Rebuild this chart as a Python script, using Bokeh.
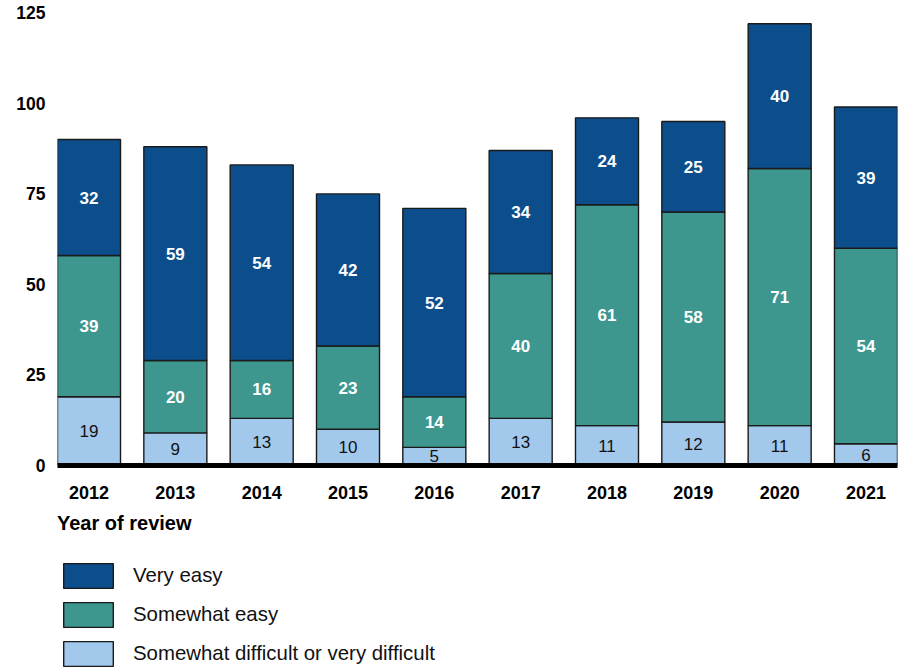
from bokeh.plotting import figure
from bokeh.layouts import column
from bokeh.models import ColumnDataSource, Range1d, FixedTicker, Legend, LegendItem
from bokeh.core.properties import value
from bokeh.embed import file_html
from bokeh.resources import INLINE

# ---- data ----
years = [2012, 2013, 2014, 2015, 2016, 2017, 2018, 2019, 2020, 2021]
difficult = [19, 9, 13, 10, 5, 13, 11, 12, 11, 6]
somewhat_easy = [39, 20, 16, 23, 14, 40, 61, 58, 71, 54]
very_easy = [32, 59, 54, 42, 52, 34, 24, 25, 40, 39]
series_keys = ["difficult", "somewhat_easy", "very_easy"]
series_names = ["Somewhat difficult or very difficult", "Somewhat easy", "Very easy"]
colors = ["#A2C8EC", "#3E978F", "#0C4E8C"]
y_ticks = [0, 25, 50, 75, 100, 125]
x_axis_title = "Year of review"

FONT = "Liberation Sans"
BAR_W = 0.73
OUTLINE = "#1a1a1a"
Y_MAX = 128.4

source = ColumnDataSource(dict(year=years, difficult=difficult,
                               somewhat_easy=somewhat_easy, very_easy=very_easy))

p = figure(width=902, height=510,
           x_range=Range1d(years[0] - BAR_W / 2, years[-1] + BAR_W / 2),
           y_range=Range1d(0, Y_MAX),
           output_backend="svg", toolbar_location=None,
           min_border_left=55, min_border_right=5, min_border_top=0, min_border_bottom=45)

renderers = p.vbar_stack(series_keys, x="year", width=BAR_W, source=source,
                         fill_color=colors, line_color=OUTLINE, line_width=1.4)

# segment labels
series_vals = [difficult, somewhat_easy, very_easy]
bottoms = [0] * len(years)
for i, vals in enumerate(series_vals):
    mids = [b + v / 2 for b, v in zip(bottoms, vals)]
    lab_src = ColumnDataSource(dict(x=years, y=mids, t=[str(v) for v in vals]))
    if i == 0:
        p.text(x="x", y="y", text="t", source=lab_src, text_align="center",
               text_baseline="middle", text_color="#111111",
               text_font=value(FONT), text_font_size="17px")
    else:
        p.text(x="x", y="y", text="t", source=lab_src, text_align="center",
               text_baseline="middle", text_color="white", text_font_style="bold",
               text_font=value(FONT), text_font_size="17px")
    bottoms = [b + v for b, v in zip(bottoms, vals)]

# axes
p.xgrid.visible = False
p.ygrid.visible = False
p.outline_line_color = None

p.xaxis.ticker = FixedTicker(ticks=years)
p.xaxis.major_tick_line_color = None
p.xaxis.minor_tick_line_color = None
p.xaxis.major_tick_out = 0
p.xaxis.major_tick_in = 0
p.xaxis.axis_line_color = "black"
p.xaxis.axis_line_width = 5
p.xaxis.major_label_standoff = 20
p.xaxis.major_label_text_font = FONT
p.xaxis.major_label_text_font_style = "bold"
p.xaxis.major_label_text_font_size = "18px"
p.xaxis.major_label_text_color = "black"

p.yaxis.ticker = FixedTicker(ticks=y_ticks)
p.yaxis.axis_line_color = None
p.yaxis.major_tick_line_color = None
p.yaxis.minor_tick_line_color = None
p.yaxis.major_tick_out = 0
p.yaxis.major_tick_in = 0
p.yaxis.major_label_standoff = 12
p.yaxis.major_label_text_font = FONT
p.yaxis.major_label_text_font_style = "bold"
p.yaxis.major_label_text_font_size = "17.5px"
p.yaxis.major_label_text_color = "black"

# ---- legend panel (separate figure below the chart) ----
# legend-only renderers: same series styles, x set to NaN so no bar is drawn
pl = figure(width=902, height=162,
            x_range=Range1d(years[0] - BAR_W / 2, years[-1] + BAR_W / 2),
            y_range=Range1d(0, Y_MAX),
            x_axis_type=None, y_axis_type=None,
            output_backend="svg", toolbar_location=None,
            min_border_left=57, min_border_right=0, min_border_top=2, min_border_bottom=0)
pl.xgrid.visible = False
pl.ygrid.visible = False
pl.outline_line_color = None

leg_renderers = pl.vbar_stack(series_keys, x=value(float("nan")), width=BAR_W, source=source,
                              fill_color=colors, line_color=OUTLINE, line_width=1.4)

items = [LegendItem(label=series_names[i], renderers=[leg_renderers[i]]) for i in (2, 1, 0)]
legend = Legend(items=items, location="top_left", orientation="vertical",
                title=x_axis_title, title_text_font=FONT, title_text_font_style="bold",
                title_text_font_size="20px", title_text_color="black", title_standoff=25,
                label_text_font=FONT, label_text_font_size="20.4px", label_text_color="#111111",
                glyph_width=62, glyph_height=31, label_standoff=14, spacing=8,
                label_height=31, margin=0, padding=0,
                border_line_color=None, background_fill_alpha=0)
pl.add_layout(legend)

layout = column(p, pl, spacing=0)
open("out.html", "w").write(file_html(layout, INLINE))
